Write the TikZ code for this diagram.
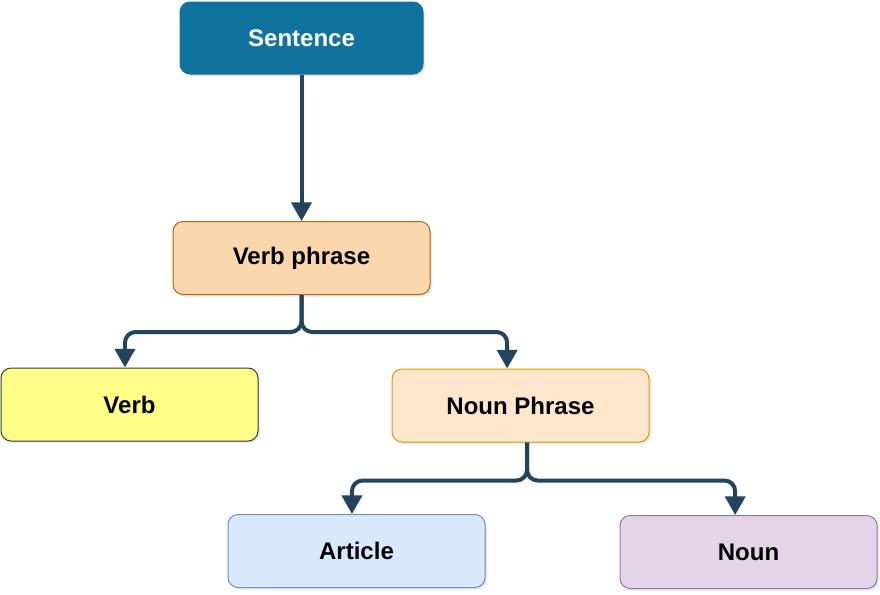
\documentclass[tikz,border=0pt]{standalone}
\usepackage{fontspec}
\setmainfont{Liberation Sans}
\usetikzlibrary{arrows.meta,shadows}

\definecolor{sentfill}{HTML}{10739E}
\definecolor{vpfill}{HTML}{FAD7AC}
\definecolor{vpline}{HTML}{B46504}
\definecolor{verbfill}{HTML}{FFFF88}
\definecolor{verbline}{HTML}{36393D}
\definecolor{npfill}{HTML}{FFE6CC}
\definecolor{npline}{HTML}{D79B00}
\definecolor{artfill}{HTML}{DAE8FC}
\definecolor{artline}{HTML}{6C8EBF}
\definecolor{nounfill}{HTML}{E1D5E7}
\definecolor{nounline}{HTML}{9673A6}
\definecolor{linkcol}{HTML}{23445D}

\tikzset{every picture/.style={line width=0.75pt}}
\tikzset{
  wordbox/.style={draw, rounded corners=7.5pt, minimum width=192.75pt, minimum height=54.75pt,
    inner sep=0pt, font=\fontsize{18}{22}\selectfont\bfseries,
    drop shadow={opacity=0.18, shadow xshift=1.5pt, shadow yshift=-1.5pt}},
  link/.style={draw=linkcol, line width=3pt, rounded corners=8pt,
    -{Triangle[width=15pt,length=14pt]}}
}

\begin{document}
\begin{tikzpicture}[x=0.75pt,y=0.75pt,yscale=-1,xscale=1]
	\useasboundingbox (0,0) rectangle (880,594);
	
	% Nodes
	\node [wordbox, draw=sentfill, fill=sentfill, text=white, minimum width=182.25pt, minimum height=54pt] (sentence) at (301.5,38) {Sentence};
	\node [wordbox, draw=vpline, fill=vpfill] (verbphrase) at (301.5,258) {Verb phrase};
	\node [wordbox, draw=verbline, fill=verbfill] (verb) at (129.5,404.5) {Verb};
	\node [wordbox, draw=npline, fill=npfill] (nounphrase) at (520.5,405.5) {Noun Phrase};
	\node [wordbox, draw=artline, fill=artfill] (article) at (356.5,551) {Article};
	\node [wordbox, draw=nounline, fill=nounfill] (noun) at (748.5,552) {Noun};
	
	% Links
	\draw [link] (sentence.south) -- (verbphrase.north);
	\draw [link] (verbphrase.south) -- ++(0,37) -| ([xshift=-3.4pt]verb.north);
	\draw [link] (verbphrase.south) -- ++(0,37) -| ([xshift=-10pt]nounphrase.north);
	\draw [link] ([xshift=4.9pt]nounphrase.south) -- ++(0,38) -| ([xshift=-3.4pt]article.north);
	\draw [link] ([xshift=4.9pt]nounphrase.south) -- ++(0,38) -| ([xshift=-10pt]noun.north);
	
\end{tikzpicture}
\end{document}
